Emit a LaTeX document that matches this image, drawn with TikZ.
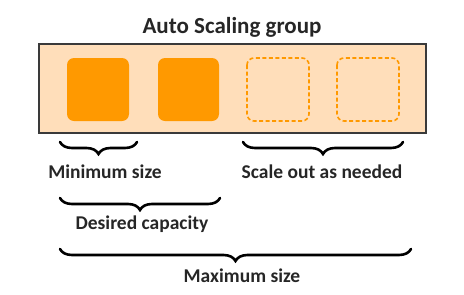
\documentclass[tikz,border=0pt]{standalone}
\usepackage{fontspec}
\setmainfont{Carlito}
\usetikzlibrary{decorations.pathreplacing}
\definecolor{peach}{HTML}{FFDEBA}
\definecolor{aworange}{HTML}{FF9900}
\definecolor{boxborder}{HTML}{3A3A3A}
\tikzset{
  group/.style={draw=boxborder, line width=1.3pt, fill=peach},
  inst/.style={fill=aworange, rounded corners=7pt},
  spare/.style={draw=aworange, dashed, dash pattern=on 4pt off 2.5pt, line width=1.6pt, rounded corners=7pt},
  brc/.style={decorate, decoration={brace, mirror, amplitude=12pt}, line width=2.6pt, line cap=round},
  lbl/.style={font=\bfseries\fontsize{19.5}{22}\selectfont, text=black!85, inner sep=0pt},
  ttl/.style={font=\bfseries\fontsize{23}{26}\selectfont, text=black!85, inner sep=0pt}
}
\begin{document}
\begin{tikzpicture}[x=1pt,y=-1pt]
\useasboundingbox (0,0) rectangle (464,295);
\draw[group] (39,44) rectangle (426,133);
\fill[inst] (67,58) rectangle (129,121);
\fill[inst] (158,58) rectangle (219,121);
\draw[spare] (247,58) rectangle (309,121);
\draw[spare] (337,58) rectangle (399,121);
\node[ttl] (title) at (232,27) {Auto Scaling group};
\coordinate (a1) at (60,142);
\coordinate (a2) at (137,142);
\coordinate (b1) at (243,142);
\coordinate (b2) at (403,142);
\coordinate (c1) at (60,198);
\coordinate (c2) at (220,198);
\coordinate (d1) at (60,249);
\coordinate (d2) at (411,249);
\draw[brc] (a1) -- (a2);
\draw[brc] (b1) -- (b2);
\draw[brc] (c1) -- (c2);
\draw[brc] (d1) -- (d2);
\node[lbl] (min) at (105,172) {Minimum size};
\node[lbl] (scale) at (322,172) {Scale out as needed};
\node[lbl] (des) at (142,224) {Desired capacity};
\node[lbl] (max) at (242,276) {Maximum size};
\end{tikzpicture}
\end{document}
